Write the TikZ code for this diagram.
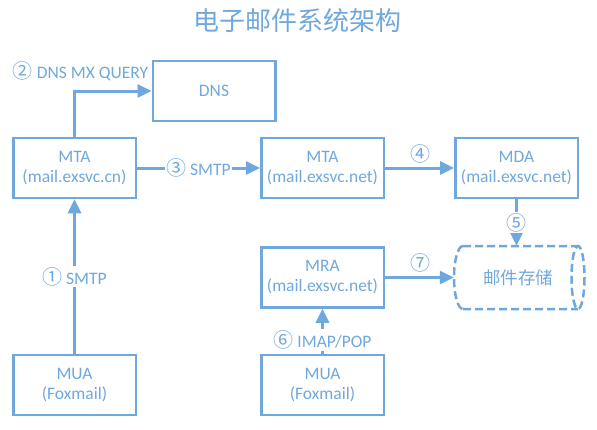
\documentclass[tikz,border=0pt]{standalone}
\usepackage{fontspec}
\setmainfont{Carlito}
\newfontfamily\cjk{Noto Sans CJK SC}
\usetikzlibrary{arrows.meta}
\definecolor{bl}{RGB}{111,168,220}
\definecolor{tx}{RGB}{111,168,220}
\newcommand\circnum[1]{{\cjk\fontsize{20}{20}\selectfont #1}}
\tikzset{
  box/.style={draw=bl, line width=2.5pt, minimum width=122.5pt, minimum height=60pt,
    inner sep=0pt, align=center, text=tx, font=\fontsize{17.5}{20}\selectfont},
  conn/.style={draw=bl, line width=3pt, -{Triangle[length=14pt,width=13pt]}},
  lbl/.style={text=tx, font=\fontsize{17.5}{20}\selectfont, inner sep=1.5pt},
  onl/.style={lbl, fill=white},
}
\begin{document}
\begin{tikzpicture}[x=1pt,y=-1pt]
\useasboundingbox (0,0) rectangle (597,429);
\node[text=tx, font=\cjk\fontsize{26}{30}\selectfont] (title) at (297,21) {电子邮件系统架构};
\node[box] (DNS) at (214,91) {DNS};
\node[box] (MTA1) at (74.5,168) {MTA\\(mail.exsvc.cn)};
\node[box] (MTA2) at (322.5,168) {MTA\\(mail.exsvc.net)};
\node[box] (MDA) at (516.5,168) {MDA\\(mail.exsvc.net)};
\node[box] (MRA) at (322.5,277.5) {MRA\\(mail.exsvc.net)};
\node[box] (MUA1) at (74.5,385) {MUA\\(Foxmail)};
\node[box] (MUA2) at (322.5,385) {MUA\\(Foxmail)};
\node[minimum width=128pt, minimum height=63pt, inner sep=0pt, text=tx,
  font=\cjk\fontsize{17.5}{20}\selectfont] (store) at (518,277.5) {邮件存储};
% cylinder outline
\draw[bl, line width=2.5pt, dash pattern=on 8pt off 4pt]
  (463,246) -- (578,246)
  (463,309) -- (578,309)
  (463,246) arc[start angle=270, end angle=90, x radius=9, y radius=31.5]
  (578,277.5) ellipse[x radius=6.5, y radius=31.5];
% connectors
\draw[conn] (MTA1.north) |- (DNS.west);
\node[lbl] (l2) at (80.5,71) {\circnum{②} DNS MX QUERY};
\draw[conn] (MTA1.east) -- (MTA2.west) node[onl, midway] (l3) {\circnum{③} SMTP};
\draw[conn] (MTA2.east) -- (MDA.west);
\node[lbl] (l4) at (420,153.5) {\circnum{④}};
\draw[conn] (MDA.south) -- (MDA.south |- store.north) node[onl, midway] (l5) {\circnum{⑤}};
\draw[conn] (MRA.east) -- (store.west);
\node[lbl] (l7) at (420,262.5) {\circnum{⑦}};
\draw[conn] (MUA1.north) -- (MTA1.south) node[onl, pos=0.5] (l1) {\circnum{①} SMTP};
\draw[conn] (MUA2.north) -- (MRA.south) node[onl, pos=0.3] (l6) {\circnum{⑥} IMAP/POP};
\end{tikzpicture}
\end{document}
